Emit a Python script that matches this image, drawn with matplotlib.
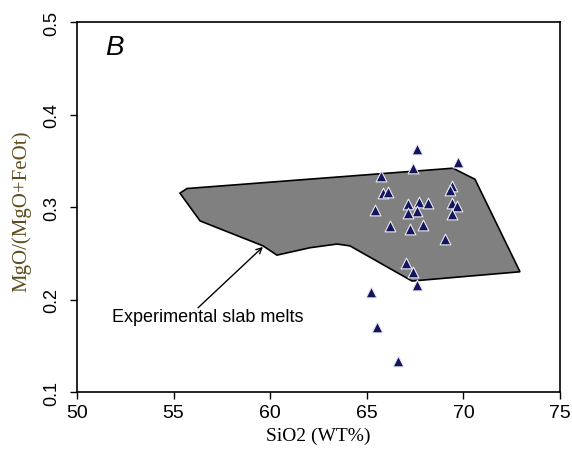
import matplotlib
matplotlib.use("Agg")
import matplotlib.pyplot as plt
from matplotlib.patches import Polygon

# outline of the experimental slab melts field
field_x = [55.33, 55.69, 69.46, 70.60, 72.93, 67.34, 64.13, 63.46, 62.06, 60.35, 59.63, 56.37]
field_y = [0.315, 0.320, 0.342, 0.330, 0.230, 0.220, 0.258, 0.260, 0.256, 0.248, 0.258, 0.285]

# samples
sio2 = [67.61, 69.71, 67.41, 65.72, 69.39, 69.31, 65.82, 66.11, 65.42, 67.12,
        67.72, 68.18, 67.58, 67.12, 69.39, 69.68, 69.39, 66.20, 67.24, 67.92,
        69.05, 67.03, 67.41, 67.61, 65.22, 65.51, 66.63]
mg_ratio = [0.363, 0.349, 0.342, 0.334, 0.323, 0.318, 0.315, 0.316, 0.297, 0.303,
            0.305, 0.304, 0.296, 0.294, 0.304, 0.301, 0.292, 0.279, 0.276, 0.281,
            0.265, 0.240, 0.230, 0.216, 0.208, 0.170, 0.134]

xticks = [50, 55, 60, 65, 70, 75]
yticks = [0.1, 0.2, 0.3, 0.4, 0.5]

plt.rcParams["font.family"] = ["Liberation Sans", "DejaVu Sans"]

fig = plt.figure(figsize=(5.72, 4.52), dpi=100)
ax = fig.add_axes([0.1346, 0.1305, 0.8444, 0.8185])

poly = Polygon(list(zip(field_x, field_y)), closed=True, facecolor="#808080",
               edgecolor="black", linewidth=1.2, zorder=1)
ax.add_patch(poly)

ax.scatter(sio2, mg_ratio, marker="^", s=60, color="#15155e",
           edgecolors="#e8e8f0", linewidths=0.8, zorder=3)

ax.text(51.81, 0.182, "Experimental slab melts", fontsize=13, ha="left", va="center")
ax.annotate("", xy=(59.73, 0.259), xytext=(56.16, 0.189),
            arrowprops=dict(arrowstyle="->", lw=1, color="black"))

ax.text(0.058, 0.968, "B", transform=ax.transAxes, fontsize=20, style="italic",
        ha="left", va="top")

ax.set_xlim(50, 75)
ax.set_ylim(0.1, 0.5)
ax.set_xticks(xticks)
ax.set_yticks(yticks)
ax.set_xticklabels([str(t) for t in xticks], fontsize=14)
ax.set_yticklabels([str(t) for t in yticks], fontsize=13, rotation=90, va="center")
ax.tick_params(direction="out", length=5, width=1)
ax.tick_params(axis="y", pad=7)

ax.set_xlabel("SiO2 (WT%)", family="Liberation Serif", fontsize=14)
ax.set_ylabel("MgO/(MgO+FeOt)", family="Liberation Serif", fontsize=15, color="#5c4d1f")
ax.yaxis.set_label_coords(-0.095, 0.49)

for s in ax.spines.values():
    s.set_linewidth(1.2)

fig.savefig("out.png", dpi=100)
